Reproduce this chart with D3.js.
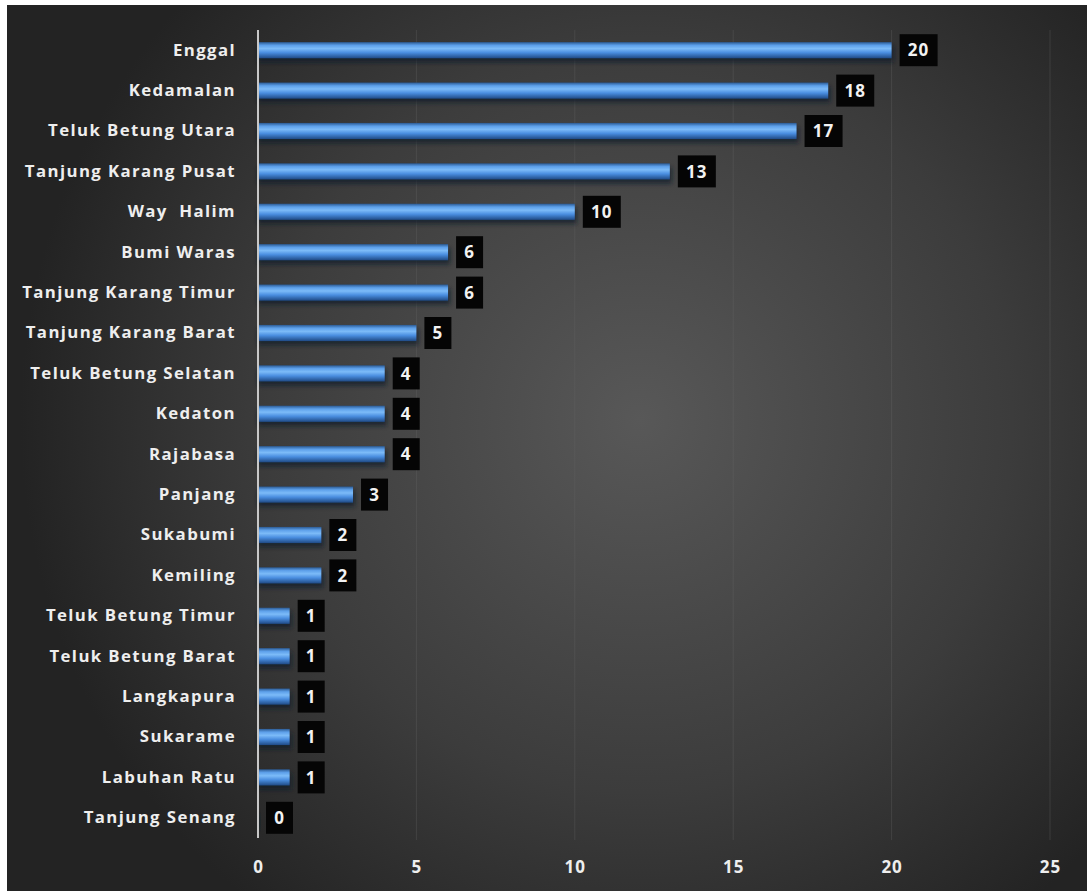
<!DOCTYPE html>
<html><head><meta charset="utf-8">
<script src="https://cdn.jsdelivr.net/npm/d3@7"></script>
<style>html,body{margin:0;padding:0;background:#fff;}svg{display:block;}</style>
</head><body>
<svg id="c" width="1087" height="891"></svg>
<script>
const categories = ["Enggal","Kedamalan","Teluk Betung Utara","Tanjung Karang Pusat","Way  Halim","Bumi Waras","Tanjung Karang Timur","Tanjung Karang Barat","Teluk Betung Selatan","Kedaton","Rajabasa","Panjang","Sukabumi","Kemiling","Teluk Betung Timur","Teluk Betung Barat","Langkapura","Sukarame","Labuhan Ratu","Tanjung Senang"];
const values = [20,18,17,13,10,6,6,5,4,4,4,3,2,2,1,1,1,1,1,0];
const tickValues = [0,5,10,15,20,25];

const svg = d3.select("#c");
const defs = svg.append("defs");
const bg = defs.append("radialGradient").attr("id","bg").attr("gradientUnits","userSpaceOnUse")
  .attr("cx",640).attr("cy",420).attr("r",620);
bg.append("stop").attr("offset","0%").attr("stop-color","#585858");
bg.append("stop").attr("offset","60%").attr("stop-color","#3c3c3c");
bg.append("stop").attr("offset","100%").attr("stop-color","#232323");

const bar = defs.append("linearGradient").attr("id","bar").attr("x1",0).attr("y1",0).attr("x2",0).attr("y2",1);
[["0%","#2b5a93"],["20%","#5da0ea"],["40%","#7cbbf8"],["65%","#4a8ee0"],["100%","#1f4a85"]].forEach(s=>bar.append("stop").attr("offset",s[0]).attr("stop-color",s[1]));

const shadow = defs.append("filter").attr("id","sh").attr("x","-10%").attr("y","-50%").attr("width","130%").attr("height","250%");
shadow.append("feGaussianBlur").attr("stdDeviation",2);

svg.append("rect").attr("x",7).attr("y",5).attr("width",1080).attr("height",886).attr("fill","url(#bg)");

const x = d3.scaleLinear().domain([0,25]).range([258,1050]);
const y = d3.scaleBand().domain(categories).range([30,838]).paddingInner(0.6).paddingOuter(0.3);

// gridlines
svg.append("g").selectAll("line").data(tickValues.slice(1)).join("line")
  .attr("x1",d=>x(d)).attr("x2",d=>x(d)).attr("y1",30).attr("y2",840)
  .attr("stroke","#6a6a6a").attr("stroke-opacity",0.3).attr("stroke-width",1);

const fontFam = "'Open Sans', 'DejaVu Sans', sans-serif";

// shadows
svg.append("g").selectAll("rect").data(values).join("rect")
  .attr("x",x(0)).attr("y",(d,i)=>y(categories[i])+4)
  .attr("width",d=>Math.max(0,x(d)-x(0)+2)).attr("height",y.bandwidth())
  .attr("fill","#0d1a2a").attr("opacity",0.7).attr("filter","url(#sh)");

// bars
svg.append("g").selectAll("rect").data(values).join("rect")
  .attr("x",x(0)).attr("y",(d,i)=>y(categories[i]))
  .attr("width",d=>x(d)-x(0)).attr("height",y.bandwidth())
  .attr("fill","url(#bar)");

// axis line
svg.append("line").attr("x1",x(0)).attr("x2",x(0)).attr("y1",30).attr("y2",838)
  .attr("stroke","#c8c8c8").attr("stroke-width",2);

// category labels
const yAxis = d3.axisLeft(y).tickSize(0).tickPadding(22);
const ga = svg.append("g").attr("transform",`translate(${x(0)},0)`).call(yAxis);
ga.select(".domain").remove();
ga.selectAll("text").attr("fill","#eeeeee").attr("font-family",fontFam).attr("font-weight","bold")
  .attr("font-size",16.8).attr("letter-spacing",1.4).style("white-space","pre");

// x axis
const xAxis = d3.axisBottom(x).tickValues(tickValues).tickSize(0).tickPadding(0);
const gx = svg.append("g").attr("transform","translate(0,861)").call(xAxis);
gx.select(".domain").remove();
gx.selectAll("text").attr("fill","#eeeeee").attr("font-family",fontFam).attr("font-weight","bold")
  .attr("font-size",17).attr("letter-spacing",1);

// data labels
const lg = svg.append("g");
values.forEach((v,i)=>{
  const cy = y(categories[i]) + y.bandwidth()/2;
  const s = String(v);
  const w = s.length>1 ? 38 : 27;
  const x0 = x(v) + 8;
  lg.append("rect").attr("x",x0).attr("y",cy-16).attr("width",w).attr("height",32).attr("fill","#050505");
  lg.append("text").attr("x",x0+w/2).attr("y",cy).attr("dy","0.36em").attr("text-anchor","middle")
    .attr("fill","#f2f2f2").attr("font-family",fontFam).attr("font-weight","bold")
    .attr("font-size",17).attr("letter-spacing",1).text(s);
});
</script>
</body></html>
